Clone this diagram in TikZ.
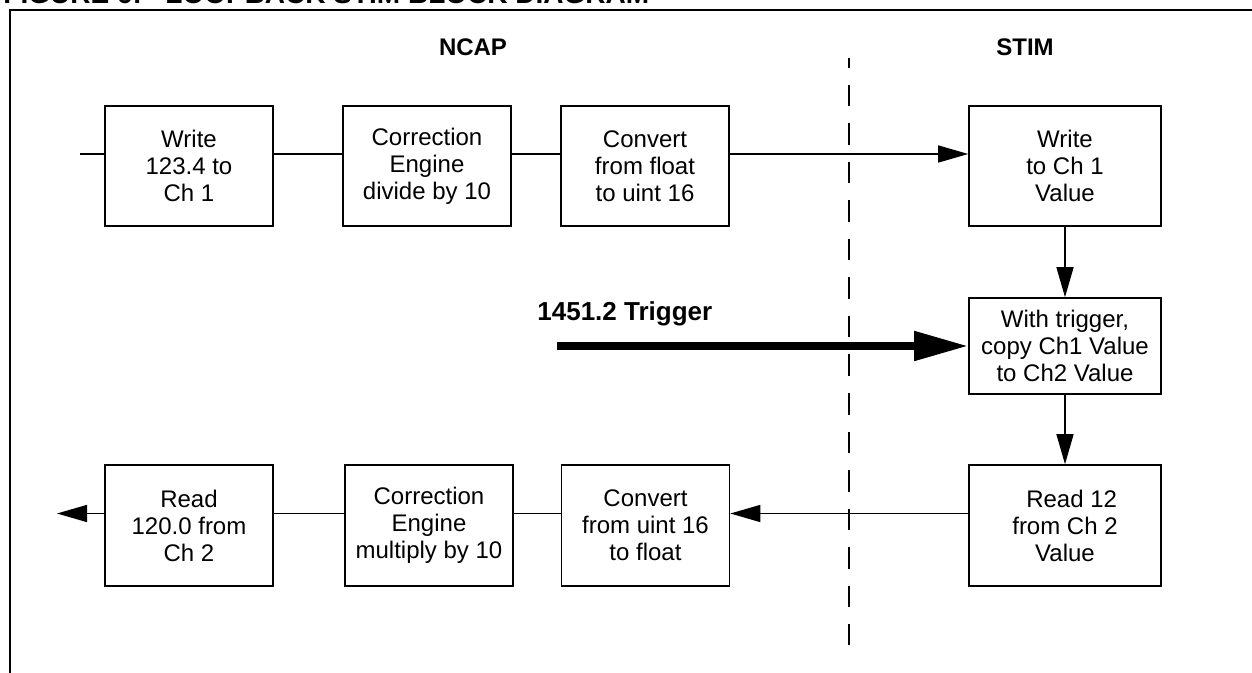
\documentclass[tikz,border=0pt]{standalone}
\usepackage{fontspec}
\setmainfont{Liberation Sans}
\usetikzlibrary{arrows.meta}
\tikzset{
	blk/.style={draw, line width=0.8pt, minimum width=84pt, minimum height=60pt,
		inner sep=0pt, align=center, font=\fontsize{12}{13.5}\selectfont},
	wideblk/.style={blk, minimum width=96pt},
	conn/.style={line width=0.7pt},
	arr/.style={conn, -{Triangle[length=15pt,width=8.5pt]}},
	hdr/.style={font=\bfseries\fontsize{12}{14}\selectfont, inner sep=0pt}
}
\begin{document}
\begin{tikzpicture}[x=0.5pt, y=-0.5pt]
	\useasboundingbox (0,0) rectangle (1252,673);
	\clip (0,0) rectangle (1252,673);
	\node[hdr, font=\bfseries\fontsize{14}{16}\selectfont, anchor=base west] (fig) at (3,4) {FIGURE 6:};
	\node[hdr, font=\bfseries\fontsize{14}{16}\selectfont, anchor=base west] (ttl) at (165,4) {LOOPBACK STIM BLOCK DIAGRAM};
	\draw[line width=1pt] (9.5,700) |- (1300,10.5);
	\node[hdr, anchor=base] (ncap) at (473,56) {NCAP};
	\node[hdr, anchor=base] (stim) at (1025,56) {STIM};
	\draw[line width=0.9pt, dash pattern=on 10.75pt off 8.5pt, dash phase=5.75pt] (849,58) -- (849,645);
	\node[blk] (w1) at (189,166) {Write\\123.4 to\\Ch 1};
	\node[blk] (ce1) at (427,166) {Correction\\Engine\\divide by 10};
	\node[blk] (cv1) at (645,166) {Convert\\from float\\to uint 16};
	\node[wideblk] (wr) at (1065,166) {Write\\to Ch 1\\Value};
	\node[wideblk, minimum height=48pt] (cp) at (1065,346) {With trigger,\\copy Ch1 Value\\ to Ch2 Value};
	\node[wideblk, minimum height=60.5pt] (rd) at (1065,525.5) {\ \ Read 12\\from Ch 2\\Value};
	\node[blk, minimum height=60.5pt] (cv2) at (645.5,525.5) {Convert\\from uint 16\\to float};
	\node[blk, minimum height=60.5pt] (ce2) at (429,525.5) {Correction\\Engine\\multiply by 10};
	\node[blk, minimum height=60.5pt] (r2) at (189,525.5) {Read\\120.0 from\\Ch 2};
	\coordinate (in) at (80,154);
	\coordinate (out) at (57,513.5);
	\coordinate (trig) at (557,346);
	\draw[conn] (in) -- ([yshift=6pt]w1.west);
	\draw[conn] ([yshift=6pt]w1.east) -- ([yshift=6pt]ce1.west);
	\draw[conn] ([yshift=6pt]ce1.east) -- ([yshift=6pt]cv1.west);
	\draw[arr] ([yshift=6pt]cv1.east) -- ([yshift=6pt]wr.west);
	\draw[arr] (wr) -- (cp);
	\draw[arr] (cp) -- (rd);
	\draw[arr] ([yshift=6pt]rd.west) -- ([yshift=6pt]cv2.east);
	\draw[conn] ([yshift=6pt]cv2.west) -- ([yshift=6pt]ce2.east);
	\draw[conn] ([yshift=6pt]ce2.west) -- ([yshift=6pt]r2.east);
	\draw[arr] ([yshift=6pt]r2.west) -- (out);
	\draw[line width=4pt, -{Triangle[length=27pt,width=14pt]}] (trig) -- (cp.west);
	\node[font=\bfseries\fontsize{13}{15}\selectfont, anchor=base west, inner sep=0pt] (trl) at (537,321) {1451.2 Trigger};
\end{tikzpicture}
\end{document}
